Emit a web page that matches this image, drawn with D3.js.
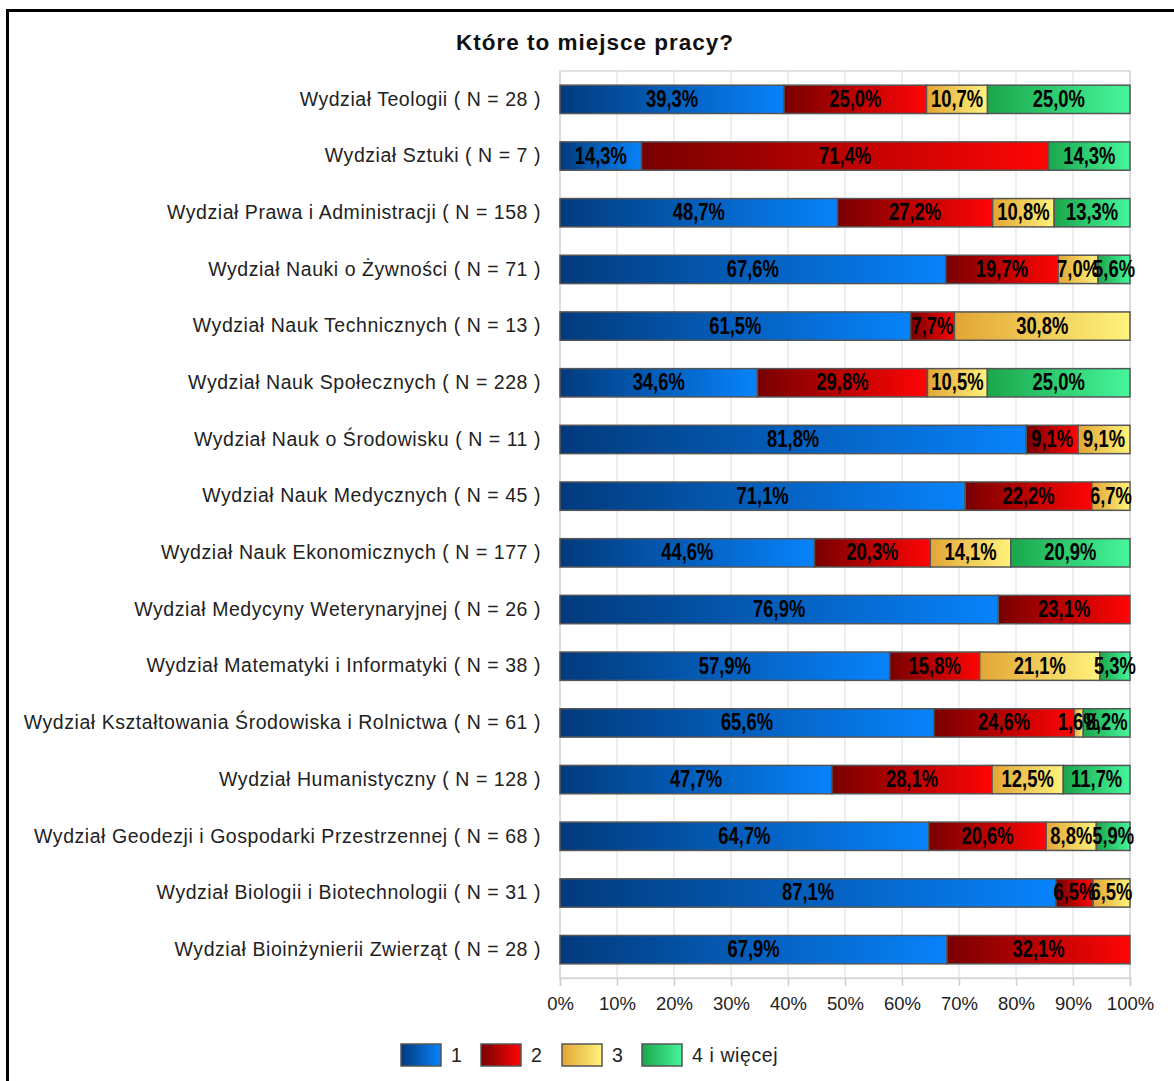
<!DOCTYPE html>
<html><head><meta charset="utf-8">
<script src="https://cdn.jsdelivr.net/npm/d3@7"></script>
<style>
html,body{margin:0;padding:0;background:#fff;}
svg{display:block;}
</style></head>
<body>
<svg id="chart" width="1174" height="1081"></svg>
<script>
const title = "Które to miejsce pracy?";
const categories = [
  "Wydział Teologii ( N = 28 )",
  "Wydział Sztuki ( N = 7 )",
  "Wydział Prawa i Administracji ( N = 158 )",
  "Wydział Nauki o Żywności ( N = 71 )",
  "Wydział Nauk Technicznych ( N = 13 )",
  "Wydział Nauk Społecznych ( N = 228 )",
  "Wydział Nauk o Środowisku ( N = 11 )",
  "Wydział Nauk Medycznych ( N = 45 )",
  "Wydział Nauk Ekonomicznych ( N = 177 )",
  "Wydział Medycyny Weterynaryjnej ( N = 26 )",
  "Wydział Matematyki i Informatyki ( N = 38 )",
  "Wydział Kształtowania Środowiska i Rolnictwa ( N = 61 )",
  "Wydział Humanistyczny ( N = 128 )",
  "Wydział Geodezji i Gospodarki Przestrzennej ( N = 68 )",
  "Wydział Biologii i Biotechnologii ( N = 31 )",
  "Wydział Bioinżynierii Zwierząt ( N = 28 )"
];
const seriesNames = ["1", "2", "3", "4 i więcej"];
const s1 = [39.3, 14.3, 48.7, 67.6, 61.5, 34.6, 81.8, 71.1, 44.6, 76.9, 57.9, 65.6, 47.7, 64.7, 87.1, 67.9];
const s2 = [25.0, 71.4, 27.2, 19.7, 7.7, 29.8, 9.1, 22.2, 20.3, 23.1, 15.8, 24.6, 28.1, 20.6, 6.5, 32.1];
const s3 = [10.7, 0, 10.8, 7.0, 30.8, 10.5, 9.1, 6.7, 14.1, 0, 21.1, 1.6, 12.5, 8.8, 6.5, 0];
const s4 = [25.0, 14.3, 13.3, 5.6, 0, 25.0, 0, 0, 20.9, 0, 5.3, 8.2, 11.7, 5.9, 0, 0];
const tickValues = [0, 0.1, 0.2, 0.3, 0.4, 0.5, 0.6, 0.7, 0.8, 0.9, 1.0];

const series = [s1, s2, s3, s4];
const gradStops = [
  ["#023a7c", "#0783fb"],
  ["#780000", "#ff0505"],
  ["#e2a535", "#fff37c"],
  ["#1ba64b", "#46f69b"]
];

const svg = d3.select("#chart");
const defs = svg.append("defs");
gradStops.forEach((c, i) => {
  const g = defs.append("linearGradient").attr("id", "g" + i)
    .attr("x1", "0%").attr("x2", "100%").attr("y1", "0%").attr("y2", "0%");
  g.append("stop").attr("offset", "0%").attr("stop-color", c[0]);
  g.append("stop").attr("offset", "100%").attr("stop-color", c[1]);
});

// frame
svg.append("rect").attr("x", 7.5).attr("y", 10.5).attr("width", 1300).attr("height", 1300)
  .attr("fill", "none").attr("stroke", "#000").attr("stroke-width", 3);

const x = d3.scaleLinear().domain([0, 1]).range([560, 1130]);
const y = d3.scaleBand().domain(categories).range([71, 978]).paddingInner(0.5).paddingOuter(0.25);

// title
svg.append("text").attr("x", 595).attr("y", 50).attr("text-anchor", "middle")
  .attr("font-family", "Liberation Sans, Arial, sans-serif").attr("font-weight", "bold")
  .attr("font-size", 22.5).attr("letter-spacing", 1).attr("fill", "#111").text(title);

// gridlines
svg.append("g").selectAll("line").data(tickValues).join("line")
  .attr("x1", d => x(d)).attr("x2", d => x(d)).attr("y1", 71).attr("y2", 978)
  .attr("stroke", "#e8e8e8").attr("stroke-width", 1.5);
svg.append("rect").attr("x", 560).attr("y", 71).attr("width", 570).attr("height", 907)
  .attr("fill", "none").attr("stroke", "#d8d8d8").attr("stroke-width", 1.5);

// x axis
const xAxis = svg.append("g").attr("transform", "translate(0,978)")
  .call(d3.axisBottom(x).tickValues(tickValues).tickFormat(d3.format(".0%")).tickSize(8).tickPadding(11));
xAxis.select(".domain").attr("stroke", "#d8d8d8").attr("stroke-width", 1.5);
xAxis.selectAll(".tick line").attr("stroke", "#cfcfcf").attr("stroke-width", 1.5);
xAxis.selectAll(".tick text").attr("font-family", "Liberation Sans, Arial, sans-serif")
  .attr("font-size", 18.5).attr("fill", "#222");

// y axis
const yAxis = svg.append("g").attr("transform", "translate(560,0)")
  .call(d3.axisLeft(y).tickSize(0).tickPadding(19));
yAxis.select(".domain").remove();
yAxis.selectAll(".tick text").attr("font-family", "Liberation Sans, Arial, sans-serif")
  .attr("font-size", 19.5).attr("letter-spacing", 0.55).attr("fill", "#222");

// stacked, normalized
const rows = categories.map((c, i) => {
  const vals = series.map(s => s[i]);
  const total = d3.sum(vals);
  let acc = 0;
  return vals.map((v, k) => {
    const seg = {cat: c, k, v, x0: acc / total, x1: (acc + v) / total};
    acc += v;
    return seg;
  }).filter(s => s.v > 0);
});
const segs = rows.flat();

svg.append("g").selectAll("rect").data(segs).join("rect")
  .attr("x", d => x(d.x0)).attr("y", d => y(d.cat))
  .attr("width", d => x(d.x1) - x(d.x0)).attr("height", y.bandwidth())
  .attr("fill", d => "url(#g" + d.k + ")")
  .attr("stroke", "#555").attr("stroke-width", 1.5);

const fmt = v => d3.format(".1f")(v).replace(".", ",") + "%";
svg.append("g").selectAll("text").data(segs).join("text")
  .attr("transform", d => `translate(${(x(d.x0) + x(d.x1)) / 2},${y(d.cat) + y.bandwidth() / 2 + 7.5}) scale(0.8,1)`)
  .attr("text-anchor", "middle")
  .attr("font-family", "Liberation Sans, Arial, sans-serif").attr("font-weight", "bold")
  .attr("font-size", 23).attr("fill", "#000")
  .text(d => fmt(d.v));

// legend
const legX = [401, 481, 562, 642];
const leg = svg.append("g").selectAll("g").data(seriesNames).join("g")
  .attr("transform", (d, i) => `translate(${legX[i]},1044)`);
leg.append("rect").attr("width", 40).attr("height", 22)
  .attr("fill", (d, i) => "url(#g" + i + ")").attr("stroke", "#555").attr("stroke-width", 1.5);
leg.append("text").attr("x", 50).attr("y", 18)
  .attr("font-family", "Liberation Sans, Arial, sans-serif").attr("font-size", 19.5)
  .attr("letter-spacing", 0.6).attr("fill", "#222").text(d => d);
</script>
</body></html>
